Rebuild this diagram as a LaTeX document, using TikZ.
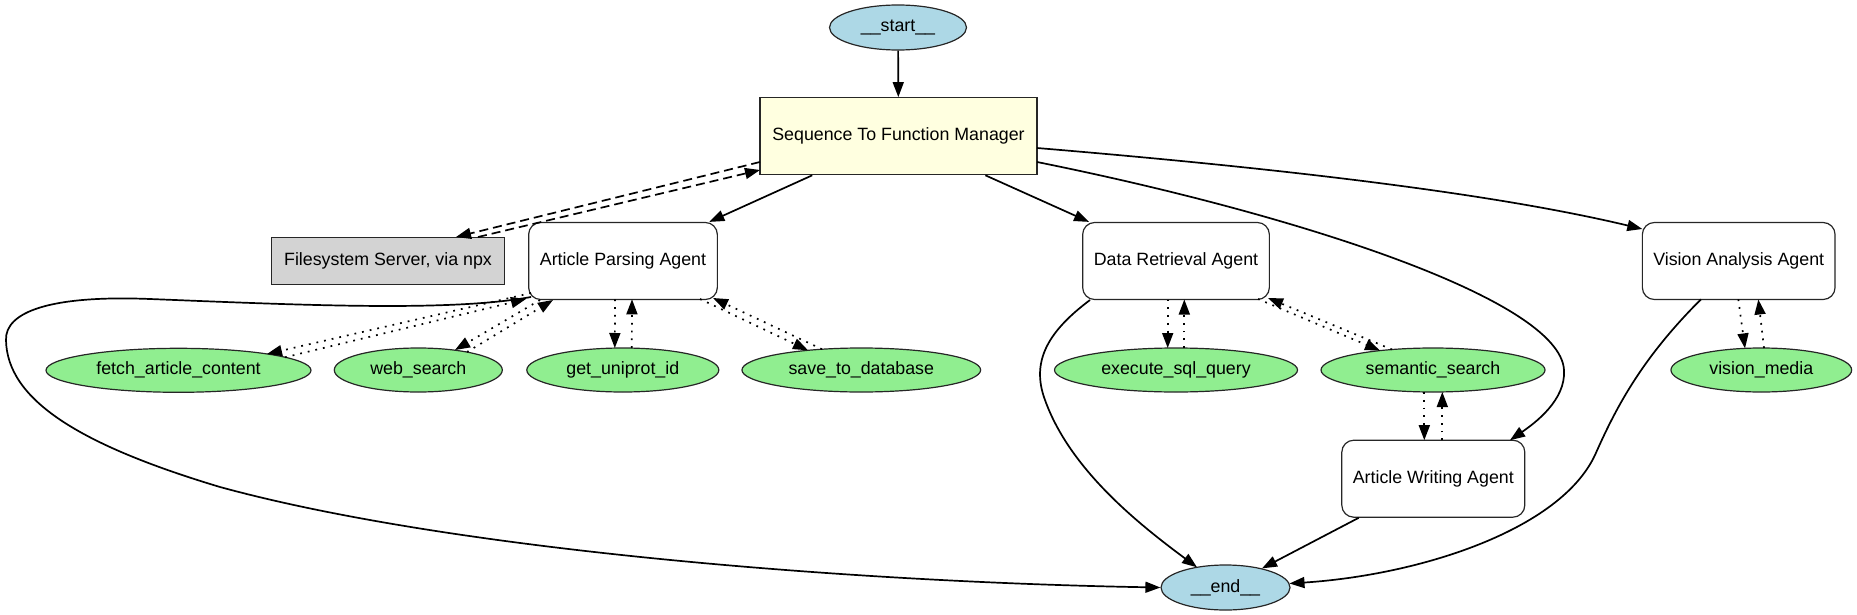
\documentclass[tikz,border=0pt]{standalone}
\usepackage{fontspec}
\setmainfont{Liberation Sans}
\usetikzlibrary{arrows.meta,shapes.geometric,calc}
\definecolor{cBlue}{HTML}{ADD8E6}
\definecolor{cGreen}{HTML}{90EE90}
\definecolor{cYellow}{HTML}{FFFFE0}
\definecolor{cGray}{HTML}{D3D3D3}
\tikzset{
  base/.style={draw=black!85, line width=1.2pt, inner sep=0pt, font=\fontsize{17.8}{21}\selectfont},
  termnode/.style={base, ellipse, fill=cBlue, minimum width=129pt, minimum height=45pt},
  toolnode/.style={base, ellipse, fill=cGreen, minimum height=44pt},
  agentnode/.style={base, rectangle, rounded corners=12pt, fill=white, minimum height=77pt},
  mgrnode/.style={base, rectangle, fill=cYellow, minimum width=277pt, minimum height=77pt},
  fsnode/.style={base, rectangle, fill=cGray, minimum width=232.6pt, minimum height=47.7pt},
  edge/.style={line width=1.7pt, -{Triangle[length=15pt,width=11pt]}},
  dotedge/.style={edge, dash pattern=on 1.8pt off 6pt},
  dashedge/.style={edge, dash pattern=on 9pt off 5pt},
}
\begin{document}
\begin{tikzpicture}[x=1pt,y=-1pt]
\useasboundingbox (0,0) rectangle (1857,615);
% nodes
\node[termnode, minimum width=137pt] (start) at (898,27.5) {\_\_start\_\_};
\node[mgrnode] (mgr) at (898.5,136.2) {Sequence To Function Manager};
\node[fsnode] (fs) at (388,261) {Filesystem Server, via npx};
\node[agentnode, minimum width=188.7pt] (apa) at (623,261) {Article Parsing Agent};
\node[agentnode, minimum width=186.7pt] (dra) at (1176,261) {Data Retrieval Agent};
\node[agentnode, minimum width=192.7pt] (vaa) at (1738.7,261) {Vision Analysis Agent};
\node[toolnode, minimum width=265pt] (fetch) at (178.5,370.3) {fetch\_article\_content};
\node[toolnode, minimum width=168pt] (web) at (418.3,370) {web\_search};
\node[toolnode, minimum width=192pt] (uni) at (622.8,370) {get\_uniprot\_id};
\node[toolnode, minimum width=238.7pt] (save) at (861.3,370) {save\_to\_database};
\node[toolnode, minimum width=243pt] (sql) at (1176,370) {execute\_sql\_query};
\node[toolnode, minimum width=224pt] (sem) at (1433,370) {semantic\_search};
\node[toolnode, minimum width=180.7pt] (vm) at (1761.3,370) {vision\_media};
\node[agentnode, minimum width=183pt] (awa) at (1433.3,478.7) {Article Writing Agent};
\node[termnode] (end) at (1225.5,587.5) {\_\_end\_\_};

% manager edges
\draw[edge] (start) -- (mgr);
\draw[edge] (mgr) -- (apa);
\draw[edge] (mgr) -- (dra);
\draw[edge] ($(mgr)+(138.5,11.8)$) .. controls (1300,170) and (1500,195) .. ($(vaa)+(-96.4,-32)$);
\draw[edge] ($(mgr)+(138.5,25.8)$) .. controls (1300,215) and (1560,300) .. (1564,370)
  .. controls (1566,400) and (1535,423) .. ($(awa)+(76.7,-38.5)$);
\draw[dashedge] ($(mgr)+(-138.5,25.8)$) -- ($(fs)+(68,-24)$);
\draw[dashedge] ($(fs)+(90,-24)$) -- ($(mgr)+(-138.5,33.8)$);

% article parsing tools
\draw[dotedge] ($(apa)+(-92,32)$) -- ($(fetch)+(88.5,-16.3)$);
\draw[dotedge] ($(fetch)+(106.5,-13)$) -- ($(apa)+(-97,38)$);
\draw[dotedge] ($(apa)+(-83,39)$) -- ($(web)+(36.7,-20)$);
\draw[dotedge] ($(web)+(48.7,-18)$) -- ($(apa)+(-70,39)$);
\draw[dotedge] ($(apa)+(-8,38.3)$) -- ($(uni)+(-8,-22)$);
\draw[dotedge] ($(uni)+(9,-22)$) -- ($(apa)+(9,38.3)$);
\draw[dotedge] ($(apa)+(77,38)$) -- ($(save)+(-53.3,-19.7)$);
\draw[dotedge] ($(save)+(-39.3,-20.8)$) -- ($(apa)+(90,37)$);

% data retrieval tools
\draw[dotedge] ($(dra)+(-8.3,38.5)$) -- ($(sql)+(-8.3,-22)$);
\draw[dotedge] ($(sql)+(8.3,-22)$) -- ($(dra)+(8.3,38.5)$);
\draw[dotedge] ($(dra)+(82,38)$) -- ($(sem)+(-53,-19.4)$);
\draw[dotedge] ($(sem)+(-41,-20.5)$) -- ($(dra)+(92,37)$);

% writing agent tools
\draw[dotedge] ($(sem)+(-8.7,22)$) -- ($(awa)+(-9,-38.5)$);
\draw[dotedge] ($(awa)+(9,-38.5)$) -- ($(sem)+(9.3,22)$);

% vision tools
\draw[dotedge] ($(vaa)+(-0.4,38.3)$) -- ($(vm)+(-16.3,-21.6)$);
\draw[dotedge] ($(vm)+(2.7,-22)$) -- ($(vaa)+(19.6,38.5)$);

% edges to end
\draw[edge] ($(apa)+(-92,36)$) .. controls (450,312) and (300,305) .. (150,299)
  .. controls (50,295) and (5,312) .. (6,340)
  .. controls (7,400) and (80,445) .. (220,487)
  .. controls (450,550) and (850,582) .. (end.west);
\draw[edge] ($(dra)+(-86,39)$) .. controls (1050,330) and (1030,360) .. (1045,400)
  .. controls (1070,470) and (1140,525) .. ($(end)+(-28.5,-20.2)$);
\draw[edge] (awa) -- (end);
\draw[edge] ($(vaa)+(-37.7,38.3)$) .. controls (1640,360) and (1615,410) .. (1595,455)
  .. controls (1560,530) and (1420,575) .. ($(end)+(64,-4)$);
\end{tikzpicture}
\end{document}
